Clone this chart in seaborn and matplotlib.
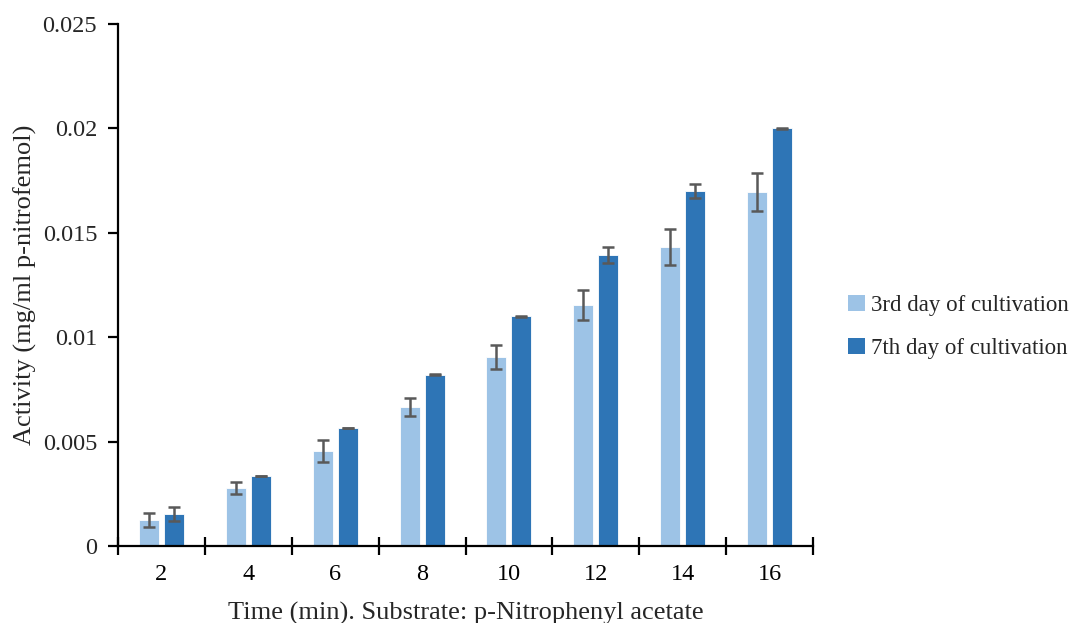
import numpy as np
import pandas as pd
import matplotlib
matplotlib.use("Agg")
import matplotlib.pyplot as plt
import seaborn as sns
from matplotlib.patches import Patch
from matplotlib.ticker import FixedLocator

# Measured activity, mean and error for each sampling time
times = ["2", "4", "6", "8", "10", "12", "14", "16"]
day3 = [0.00125, 0.00278, 0.00455, 0.00666, 0.00905, 0.01154, 0.01432, 0.01695]
day3_err = [0.00033, 0.00030, 0.00053, 0.00045, 0.00057, 0.00070, 0.00087, 0.00090]
day7 = [0.00153, 0.00335, 0.00565, 0.00820, 0.01100, 0.01394, 0.01700, 0.02000]
day7_err = [0.00033, 0.00002, 0.00002, 0.00002, 0.00002, 0.00038, 0.00035, 0.00002]
series = ["3rd day of cultivation", "7th day of cultivation"]
colors = ["#9DC3E6", "#2E75B6"]
yticks = [0, 0.005, 0.01, 0.015, 0.02, 0.025]
ytick_labels = ["0", "0.005", "0.01", "0.015", "0.02", "0.025"]

df = pd.DataFrame({
    "time": times * 2,
    "activity": day3 + day7,
    "series": [series[0]] * len(times) + [series[1]] * len(times),
})
errs = [day3_err, day7_err]

sns.set_theme(style="white")
plt.rcParams["font.family"] = ["Liberation Serif", "DejaVu Serif"]

fig = plt.figure(figsize=(10.85, 6.23), dpi=100)
ax = fig.add_axes([0.1088, 0.1236, 0.6405, 0.838])

sns.barplot(data=df, x="time", y="activity", hue="series", order=times,
            hue_order=series, palette=colors, saturation=1, width=0.575, gap=0.2,
            errorbar=None, edgecolor="white", linewidth=0.6,
            legend=False, ax=ax)

# Error bars centred on each drawn bar
for cont, err in zip(ax.containers, errs):
    xs = [p.get_x() + p.get_width() / 2 for p in cont.patches]
    hs = [p.get_height() for p in cont.patches]
    ax.errorbar(xs, hs, yerr=err, fmt="none", ecolor="#595959",
                elinewidth=1.8, capsize=4.5, capthick=1.8, zorder=5)

ax.set_xlim(-0.5, len(times) - 0.5)
ax.set_ylim(0, 0.025)
ax.set_yticks(yticks)
ax.set_yticklabels(ytick_labels)

# Category separators on the x axis
ax.xaxis.set_minor_locator(FixedLocator(np.arange(-0.5, len(times), 1.0)))
ax.tick_params(axis="x", which="major", length=0, pad=13, labelsize=17.5, colors="black")
ax.tick_params(axis="x", which="minor", direction="inout", length=13, width=1.6,
               color="black", bottom=True)
ax.tick_params(axis="y", which="major", direction="out", length=7, width=1.6,
               color="black", left=True, labelsize=17.5, pad=8)

for side in ["top", "right"]:
    ax.spines[side].set_visible(False)
for side in ["left", "bottom"]:
    ax.spines[side].set_color("black")
    ax.spines[side].set_linewidth(1.6)

ax.set_xlabel("Time (min). Substrate: p-Nitrophenyl acetate", fontsize=19, labelpad=12)
ax.set_ylabel("Activity (mg/ml p-nitrofemol)", fontsize=19, labelpad=4)

handles = [Patch(facecolor=c, edgecolor="none") for c in colors]
fig.legend(handles, series, loc="center left", bbox_to_anchor=(0.763, 0.475),
           frameon=False, fontsize=16.5, handlelength=0.7, handleheight=0.7,
           handletextpad=0.3, labelspacing=0.95)

fig.savefig("out.png", dpi=100)
